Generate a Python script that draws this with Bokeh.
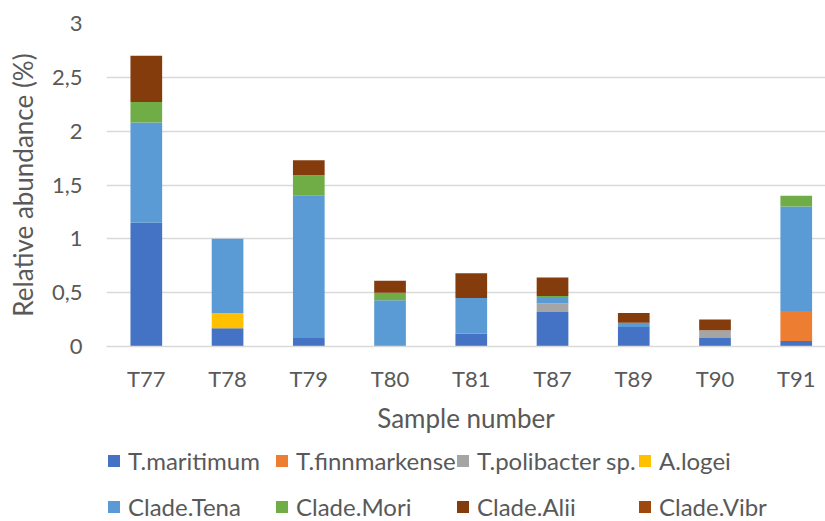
import numpy as np
from bokeh.plotting import figure
from bokeh.layouts import column
from bokeh.models import (Range1d, FixedTicker, Legend, LegendItem, ColumnDataSource)
from bokeh.embed import file_html
from bokeh.resources import INLINE

# ---- data ----
samples = ["T77", "T78", "T79", "T80", "T81", "T87", "T89", "T90", "T91"]
t_maritimum     = [1.15, 0.17, 0.08, 0.00, 0.12, 0.32, 0.18, 0.08, 0.05]
t_finnmarkense  = [0.00, 0.00, 0.00, 0.00, 0.00, 0.00, 0.00, 0.00, 0.28]
t_polibacter    = [0.00, 0.00, 0.00, 0.00, 0.00, 0.08, 0.00, 0.07, 0.00]
a_logei         = [0.00, 0.14, 0.00, 0.00, 0.00, 0.00, 0.00, 0.00, 0.00]
clade_tena      = [0.93, 0.69, 1.32, 0.43, 0.33, 0.06, 0.04, 0.00, 0.97]
clade_mori      = [0.19, 0.00, 0.19, 0.07, 0.00, 0.01, 0.00, 0.00, 0.10]
clade_alii      = [0.43, 0.00, 0.14, 0.11, 0.23, 0.17, 0.09, 0.10, 0.00]
clade_vibr      = [0.00, 0.00, 0.00, 0.00, 0.00, 0.00, 0.00, 0.00, 0.00]

series_names = ["T.maritimum", "T.finnmarkense", "T.polibacter sp.", "A.logei",
                "Clade.Tena", "Clade.Mori", "Clade.Alii", "Clade.Vibr"]
series_vals = [t_maritimum, t_finnmarkense, t_polibacter, a_logei,
               clade_tena, clade_mori, clade_alii, clade_vibr]
colors = ["#4472C4", "#ED7D31", "#A5A5A5", "#FFC000",
          "#5B9BD5", "#70AD47", "#843C0C", "#9E480E"]

y_ticks = [0, 0.5, 1, 1.5, 2, 2.5, 3]
y_tick_labels = ["0", "0,5", "1", "1,5", "2", "2,5", "3"]

FONT = "Lato"
TXT = "#595959"

x_idx = list(range(len(samples)))
data = {"x": x_idx}
keys = []
for i, vals in enumerate(series_vals):
    k = f"s{i}"
    keys.append(k)
    data[k] = vals
source = ColumnDataSource(data)

# ---- main chart ----
p = figure(width=825, height=436, output_backend="svg", toolbar_location=None,
           x_range=Range1d(-0.49, 8.36), y_range=Range1d(0, 3),
           min_border_left=106, min_border_right=0, min_border_top=23,
           min_border_bottom=90)
p.outline_line_color = None

renderers = p.vbar_stack(keys, x="x", width=0.39, color=colors, source=source,
                         line_color=None)

p.xaxis.ticker = FixedTicker(ticks=x_idx)
p.xaxis.major_label_overrides = {i: s for i, s in enumerate(samples)}
p.yaxis.ticker = FixedTicker(ticks=y_ticks)
p.yaxis.major_label_overrides = {t: l for t, l in zip(y_ticks, y_tick_labels)}

for ax in (p.xaxis[0], p.yaxis[0]):
    ax.major_tick_line_color = None
    ax.minor_tick_line_color = None
    ax.major_label_text_font = FONT
    ax.major_label_text_color = TXT
    ax.major_label_text_font_size = "22px"
    ax.axis_label_text_font = FONT
    ax.axis_label_text_color = TXT
    ax.axis_label_text_font_size = "26px"
    ax.axis_label_text_font_style = "normal"

p.xaxis.axis_line_color = "#D9D9D9"
p.xaxis.axis_line_width = 1.5
p.xaxis.major_label_standoff = 12
p.xaxis.axis_label = "Sample number"
p.xaxis.axis_label_standoff = 7
p.yaxis.axis_line_color = None
p.yaxis.major_label_standoff = 18
p.yaxis.axis_label = "Relative abundance (%)"
p.yaxis.axis_label_standoff = 10

p.xgrid.grid_line_color = None
p.ygrid.grid_line_color = "#D9D9D9"
p.ygrid.grid_line_width = 1.5

# ---- legend strip (same series, bars kept out of view) ----
leg = figure(width=825, height=85, output_backend="svg", toolbar_location=None,
             x_range=Range1d(100, 101), y_range=Range1d(100, 101),
             x_axis_location=None, y_axis_location=None, min_border=0)
leg.outline_line_color = None
leg.xgrid.visible = False
leg.ygrid.visible = False
leg_renderers = leg.vbar_stack(keys, x="x", width=0.39, color=colors,
                               source=source, line_color=None)

# offsets from the (aligned) frame's left edge
col_x = [0, 168, 349, 531]
for c in range(4):
    its = [LegendItem(label=series_names[c], renderers=[leg_renderers[c]]),
           LegendItem(label=series_names[c + 4], renderers=[leg_renderers[c + 4]])]
    lg = Legend(items=its, orientation="vertical", location=(col_x[c], 0),
                label_text_font=FONT, label_text_color=TXT,
                label_text_font_size="24px", glyph_width=15, glyph_height=15,
                label_standoff=7, label_height=30, spacing=16, padding=0,
                margin=0, border_line_color=None, background_fill_alpha=0)
    leg.add_layout(lg, "center")

open("out.html", "w").write(file_html(column(p, leg), INLINE))
